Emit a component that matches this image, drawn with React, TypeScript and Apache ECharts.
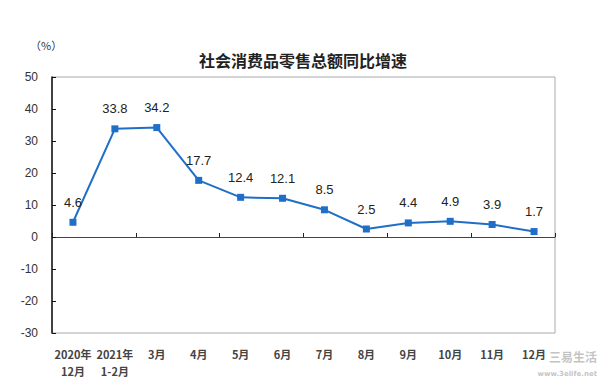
import React, { useEffect, useRef } from "react";
import * as echarts from "echarts";

const categories = ["2020年\n12月", "2021年\n1-2月", "3月", "4月", "5月", "6月", "7月", "8月", "9月", "10月", "11月", "12月"];
const growth = [4.6, 33.8, 34.2, 17.7, 12.4, 12.1, 8.5, 2.5, 4.4, 4.9, 3.9, 1.7];
const titleText = "社会消费品零售总额同比增速";
const unitText = "（%）";

export default function App() {
  const ref = useRef<HTMLDivElement>(null);
  useEffect(() => {
    if (!ref.current) return;
    const chart = echarts.init(ref.current, undefined, { renderer: "svg" });
    const cjk = '"Noto Sans CJK SC", sans-serif';
    chart.setOption({
      animation: false,
      backgroundColor: "#ffffff",
      title: {
        text: titleText,
        left: 298,
        textAlign: "center",
        top: 47,
        textStyle: { fontFamily: cjk, fontSize: 16, fontWeight: "bold", color: "#222" },
      },
      graphic: [
        { type: "text", left: 30, top: 39, style: { text: unitText, fontFamily: cjk, fontSize: 11, fill: "#333" } },
        { type: "text", right: 3, top: 350, style: { text: "三易生活", fontFamily: cjk, fontSize: 12, fontWeight: "bold", fill: "rgba(185,185,185,0.85)" } },
        { type: "text", right: 3, top: 370, style: { text: "www.3elife.net", fontFamily: '"DejaVu Sans", sans-serif', fontSize: 7, fontWeight: "bold", fill: "rgba(185,185,185,0.85)" } },
      ],
      grid: { left: 52, right: 45, top: 77, bottom: 51, show: true, borderColor: "#aaa", borderWidth: 1 },
      xAxis: [
        {
          type: "category",
          data: categories,
          boundaryGap: true,
          axisLine: { onZero: true, lineStyle: { color: "#444", width: 1 } },
          axisTick: { show: true, inside: true, length: 4, lineStyle: { color: "#222" } },
          axisLabel: { show: false },
        },
        {
          type: "category",
          data: categories,
          position: "bottom",
          boundaryGap: true,
          axisLine: { show: false, onZero: false },
          axisTick: { show: false },
          axisLabel: { show: true, interval: 0, margin: 12, fontFamily: cjk, fontSize: 11, fontWeight: "bold", color: "#444", lineHeight: 17 },
        },
      ],
      yAxis: {
        type: "value",
        min: -30,
        max: 50,
        interval: 10,
        axisLine: { show: true, lineStyle: { color: "#111", width: 1.5 } },
        axisTick: { show: true, inside: true, length: 4, lineStyle: { color: "#111" } },
        axisLabel: { fontFamily: '"Liberation Sans", Arial, sans-serif', fontSize: 12, color: "#333", margin: 14 },
        splitLine: { show: false },
      },
      series: [
        {
          type: "line",
          xAxisIndex: 0,
          data: growth,
          symbol: "rect",
          symbolSize: 7,
          lineStyle: { color: "#1f6fc8", width: 2 },
          itemStyle: { color: "#1f6fc8" },
          label: {
            show: true,
            position: "top",
            distance: 10,
            fontFamily: '"Liberation Sans", Arial, sans-serif',
            fontSize: 13,
            color: "#222",
          },
        },
      ],
    });
    return () => chart.dispose();
  }, []);
  return <div ref={ref} style={{ position: "fixed", left: 0, top: 0, width: 600, height: 384 }} />;
}
